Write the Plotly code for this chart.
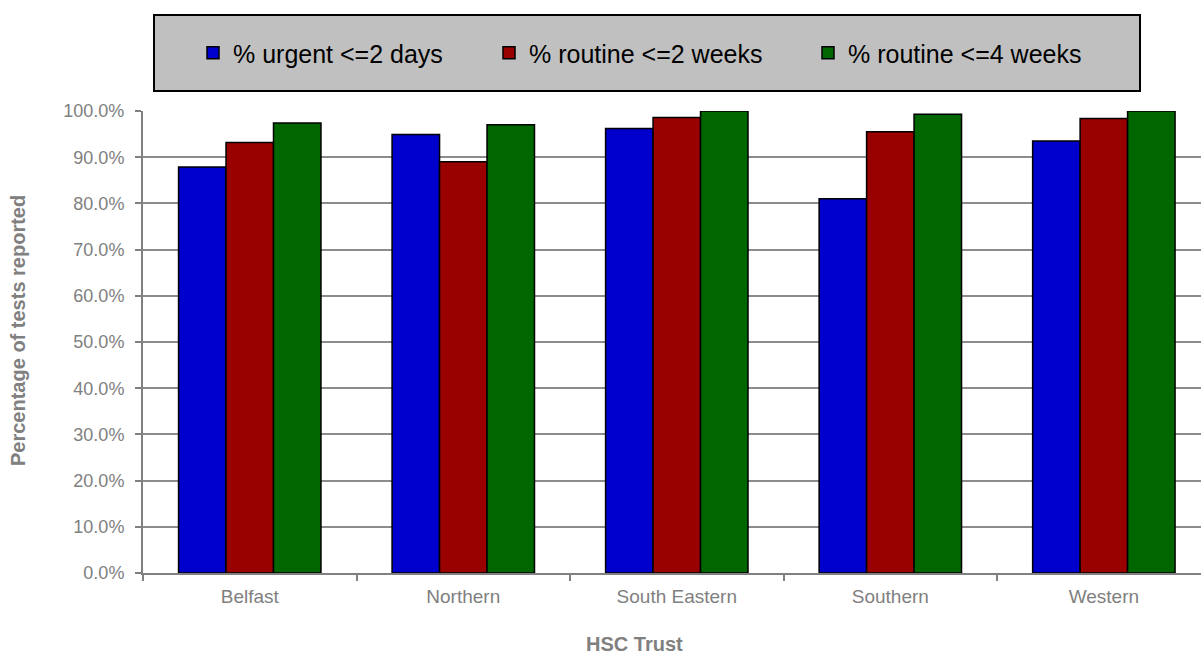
import plotly.graph_objects as go

categories = ["Belfast", "Northern", "South Eastern", "Southern", "Western"]
urgent_2days = [87.9, 94.9, 96.2, 81.0, 93.5]
routine_2weeks = [93.2, 89.0, 98.6, 95.5, 98.4]
routine_4weeks = [97.4, 97.0, 100.0, 99.3, 100.0]
series_names = ["% urgent <=2 days", "% routine <=2 weeks", "% routine <=4 weeks"]
colors = ["#0000CC", "#990000", "#006600"]
y_ticks = [0, 10, 20, 30, 40, 50, 60, 70, 80, 90, 100]

W, H = 1201, 655
L, R, T, B = 143, 0, 111, 82
FONT = "Liberation Sans, Arial, sans-serif"
GRAY = "#808080"

fig = go.Figure()
legends = ["legend", "legend2", "legend3"]
for name, vals, col, lg in zip(series_names, [urgent_2days, routine_2weeks, routine_4weeks], colors, legends):
    fig.add_trace(go.Bar(
        x=categories, y=vals, name=name, legend=lg,
        marker=dict(color=col, line=dict(color="black", width=1.5)),
    ))

def leg(xpx):
    return dict(
        x=xpx / W, xref="container", xanchor="left",
        y=1 - 53 / H, yref="container", yanchor="middle",
        orientation="h", bgcolor="rgba(0,0,0,0)", borderwidth=0,
        font=dict(family=FONT, size=25, color="black"),
        itemwidth=30,
    )

pw = W - L - R
ph = H - T - B

def px_x(p):
    return (p - L) / pw

def px_y(p):
    return 1 + (T - p) / ph

fig.update_layout(
    width=W, height=H,
    margin=dict(l=L, r=R, t=T, b=B),
    paper_bgcolor="white", plot_bgcolor="white",
    bargap=0.333, bargroupgap=0,
    barmode="group",
    showlegend=True,
    legend=leg(193),
    legend2=leg(489),
    legend3=leg(808),
    font=dict(family=FONT, color=GRAY),
    xaxis=dict(
        type="category", range=[-0.5, 4.455],
        tickson="boundaries", ticks="outside", ticklen=6, tickwidth=1.5, tickcolor=GRAY,
        showline=True, linecolor=GRAY, linewidth=2,
        showgrid=False, ticklabelstandoff=5,
        tickfont=dict(family=FONT, size=19, color=GRAY),
    ),
    yaxis=dict(
        range=[0, 100], tickvals=y_ticks,
        ticktext=[f"{v:.1f}%" for v in y_ticks],
        ticks="outside", ticklen=6, tickwidth=1.5, tickcolor=GRAY,
        showline=True, linecolor=GRAY, linewidth=2,
        showgrid=True, gridcolor="#8c8c8c", gridwidth=1.5,
        zeroline=False, ticklabelstandoff=7,
        tickfont=dict(family=FONT, size=18, color=GRAY),
    ),
    shapes=[dict(
        type="rect", xref="paper", yref="paper",
        x0=px_x(154), x1=px_x(1140), y0=px_y(91), y1=px_y(15),
        fillcolor="#C0C0C0", line=dict(color="black", width=2), layer="below",
    )],
    annotations=[
        dict(text="<b>HSC Trust</b>", xref="paper", yref="paper",
             x=px_x(634), y=px_y(644), xanchor="center", yanchor="middle",
             showarrow=False, font=dict(family=FONT, size=20, color=GRAY)),
        dict(text="<b>Percentage of tests reported</b>", xref="paper", yref="paper",
             x=px_x(18), y=px_y(331), xanchor="center", yanchor="middle", textangle=-90,
             showarrow=False, font=dict(family=FONT, size=20, color=GRAY)),
    ],
)

fig.write_html("out.html", config={"displayModeBar": False},
               post_script="document.body.style.margin='0';document.body.style.overflow='hidden';")
